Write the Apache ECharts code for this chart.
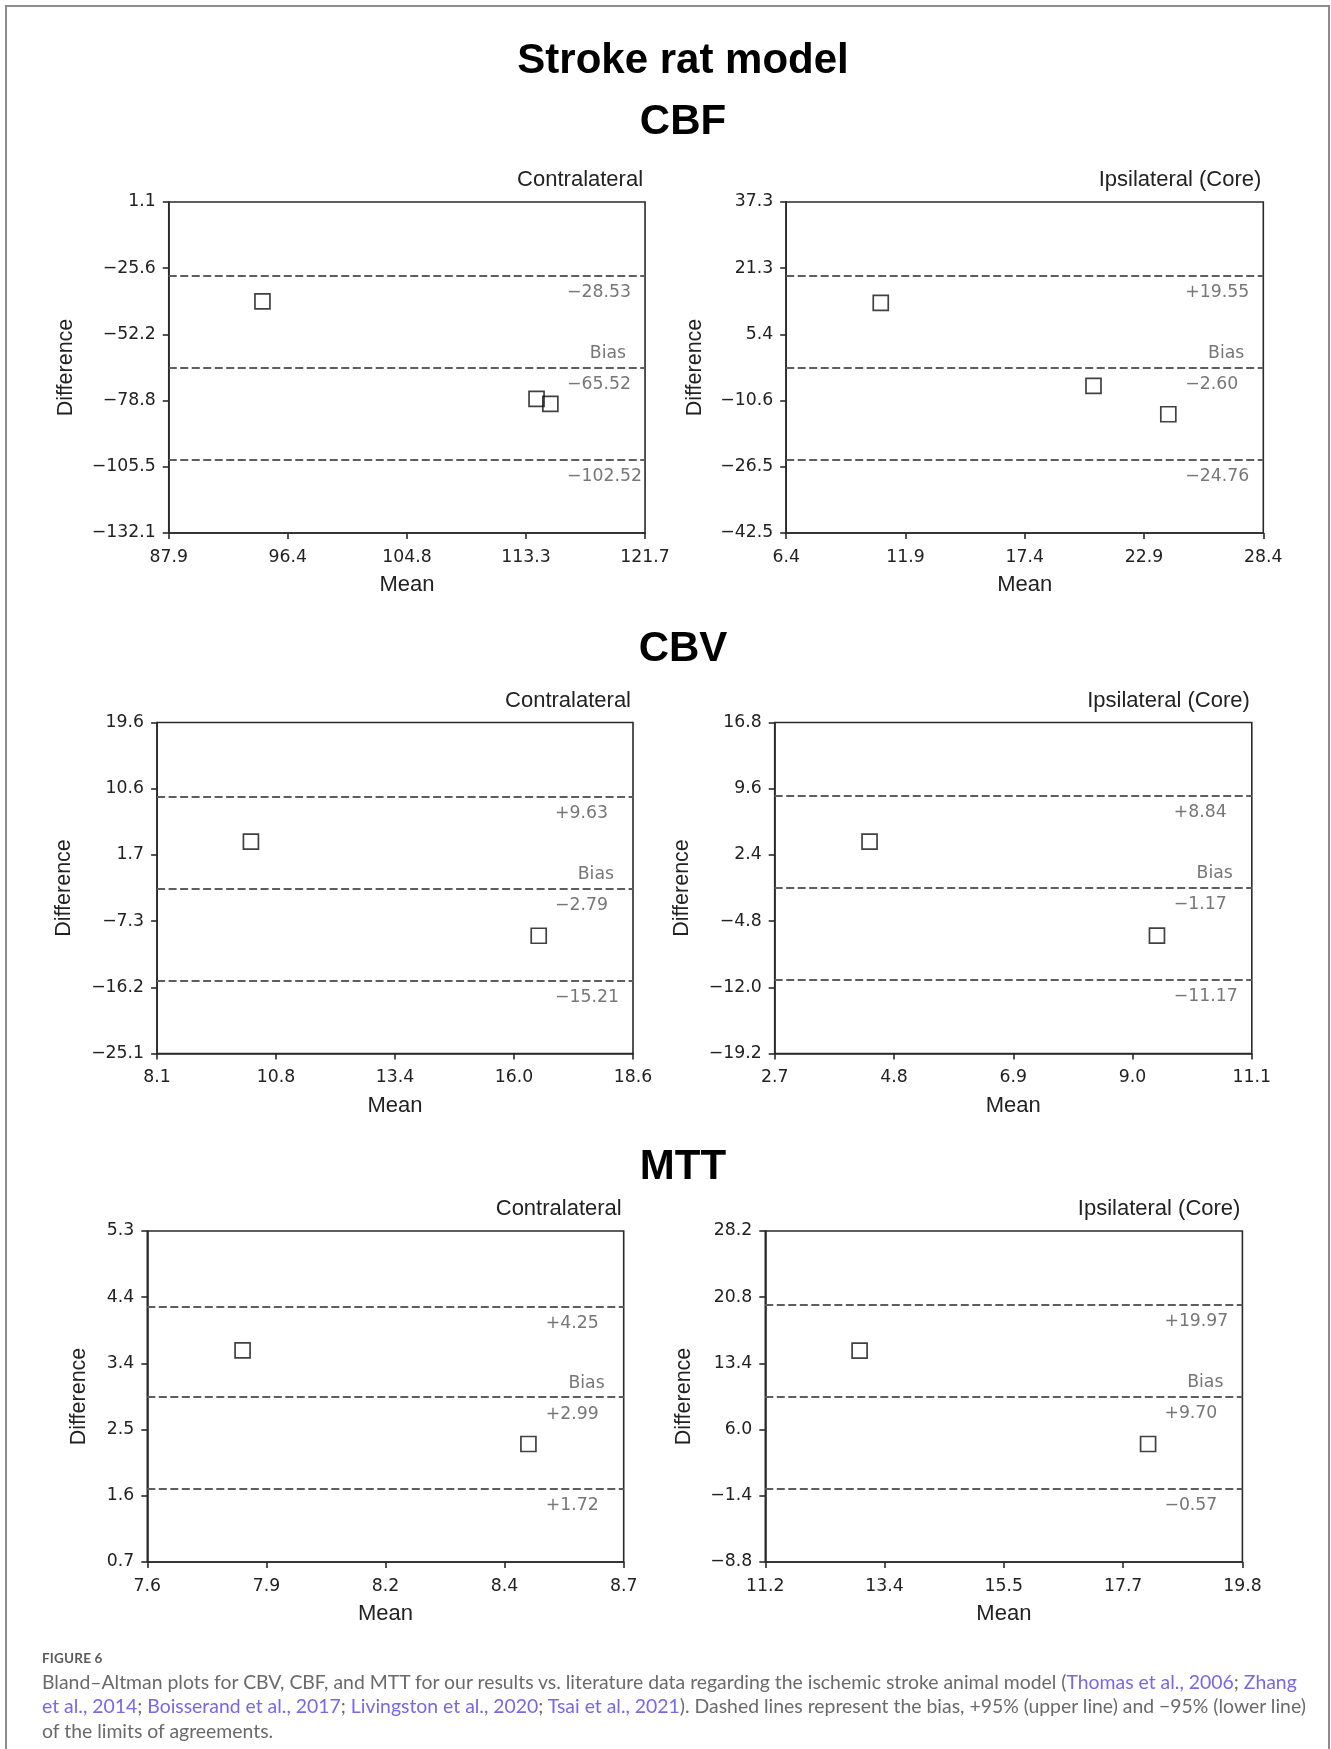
<!DOCTYPE html>
<html>
<head>
<meta charset="utf-8">
<script src="https://cdn.jsdelivr.net/npm/echarts@6/dist/echarts.min.js"></script>
<style>
html,body{margin:0;padding:0;background:#fff;}
#frame{position:absolute;left:5px;top:5px;width:1325px;height:1800px;border:2px solid #8c8c8c;box-sizing:border-box;}
#chart{position:absolute;left:0;top:0;width:1331px;height:1749px;}
#caption{position:absolute;left:42px;top:1648px;font-family:Lato,"Open Sans",sans-serif;color:#6a6a6a;white-space:nowrap;}
#caption .fig{font-size:13.5px;font-weight:700;color:#5a5a5a;line-height:20px;letter-spacing:0.2px;}
#caption .txt{font-size:19.4px;line-height:24.3px;margin-top:2px;}
#caption .l{color:#7669e6;}
</style>
</head>
<body>
<div id="frame"></div>
<div id="chart"></div>
<div id="caption">
<div class="fig">FIGURE 6</div>
<div class="txt">Bland–Altman plots for CBV, CBF, and MTT for our results vs. literature data regarding the ischemic stroke animal model (<span class="l">Thomas et al., 2006</span>; <span class="l">Zhang</span><br><span class="l">et al., 2014</span>; <span class="l">Boisserand et al., 2017</span>; <span class="l">Livingston et al., 2020</span>; <span class="l">Tsai et al., 2021</span>). Dashed lines represent the bias, +95% (upper line) and −95% (lower line)<br>of the limits of agreements.</div>
</div>
<script>
// ---------------- DATA ----------------
// CBF
const cbfContraMean = [94.55, 114.0, 114.98];
const cbfContraDiff = [-38.9, -78.1, -80.1];
const cbfContraLimits = [-28.53, -65.52, -102.52];   // upper, bias, lower
const cbfContraXTicks = [87.9, 96.4, 104.8, 113.3, 121.7];
const cbfContraYTicks = [-132.1, -105.5, -78.8, -52.2, -25.6, 1.1];

const cbfIpsiMean = [10.76, 20.57, 24.02];
const cbfIpsiDiff = [13.0, -7.05, -13.87];
const cbfIpsiLimits = [19.55, -2.60, -24.76];
const cbfIpsiXTicks = [6.4, 11.9, 17.4, 22.9, 28.4];
const cbfIpsiYTicks = [-42.5, -26.5, -10.6, 5.4, 21.3, 37.3];

// CBV
const cbvContraMean = [10.17, 16.52];
const cbvContraDiff = [3.52, -9.2];
const cbvContraLimits = [9.63, -2.79, -15.21];
const cbvContraXTicks = [8.1, 10.8, 13.4, 16.0, 18.6];
const cbvContraYTicks = [-25.1, -16.2, -7.3, 1.7, 10.6, 19.6];

const cbvIpsiMean = [4.37, 9.43];
const cbvIpsiDiff = [3.85, -6.39];
const cbvIpsiLimits = [8.84, -1.17, -11.17];
const cbvIpsiXTicks = [2.7, 4.8, 6.9, 9.0, 11.1];
const cbvIpsiYTicks = [-19.2, -12.0, -4.8, 2.4, 9.6, 16.8];

// MTT
const mttContraMean = [7.82, 8.48];
const mttContraDiff = [3.64, 2.34];
const mttContraLimits = [4.25, 2.99, 1.72];
const mttContraXTicks = [7.6, 7.9, 8.2, 8.4, 8.7];
const mttContraYTicks = [0.7, 1.6, 2.5, 3.4, 4.4, 5.3];

const mttIpsiMean = [12.90, 18.10];
const mttIpsiDiff = [14.83, 4.39];
const mttIpsiLimits = [19.97, 9.70, -0.57];
const mttIpsiXTicks = [11.2, 13.4, 15.5, 17.7, 19.8];
const mttIpsiYTicks = [-8.8, -1.4, 6.0, 13.4, 20.8, 28.2];

const sectionTitles = ['CBF', 'CBV', 'MTT'];
const mainTitle = 'Stroke rat model';
const subTitles = ['Contralateral', 'Ipsilateral (Core)'];

// ---------------- LAYOUT ----------------
const panels = [
  {l:168.75, t:202,   w:476.3, h:331, sub:0, gap:92, mean:cbfContraMean, diff:cbfContraDiff, lim:cbfContraLimits, xt:cbfContraXTicks, yt:cbfContraYTicks},
  {l:786.2,  t:202,   w:477.1, h:331, sub:1, gap:80, mean:cbfIpsiMean,   diff:cbfIpsiDiff,   lim:cbfIpsiLimits,   xt:cbfIpsiXTicks,   yt:cbfIpsiYTicks},
  {l:157.1,  t:722.5, w:475.9, h:331, sub:0, gap:82, mean:cbvContraMean, diff:cbvContraDiff, lim:cbvContraLimits, xt:cbvContraXTicks, yt:cbvContraYTicks},
  {l:774.7,  t:722.5, w:477.1, h:331, sub:1, gap:82, mean:cbvIpsiMean,   diff:cbvIpsiDiff,   lim:cbvIpsiLimits,   xt:cbvIpsiXTicks,   yt:cbvIpsiYTicks},
  {l:147.3,  t:1231,  w:476.4, h:331, sub:0, gap:57, mean:mttContraMean, diff:mttContraDiff, lim:mttContraLimits, xt:mttContraXTicks, yt:mttContraYTicks},
  {l:765.3,  t:1231,  w:477.1, h:331, sub:1, gap:70, mean:mttIpsiMean,   diff:mttIpsiDiff,   lim:mttIpsiLimits,   xt:mttIpsiXTicks,   yt:mttIpsiYTicks}
];
const sectionY = [122, 649, 1167];
const mainTitleY = 61;
const centerX = 683;

const AXIS_COLOR = '#2a2a2a';
const TICK_FONT = '"DejaVu Sans", sans-serif';
const NAME_FONT = '"Liberation Sans", Arial, sans-serif';
const ANN_COLOR = '#777';

function fmtNum(v) {
  const s = Math.abs(v).toFixed(1);
  return v < 0 ? '\u2212' + s : s;
}
function fmtLim(v) {
  const s = Math.abs(v).toFixed(2);
  return (v < 0 ? '\u2212' : '+') + s;
}
function evenPositions(arr) {
  const a = arr[0], b = arr[arr.length - 1], n = arr.length;
  return arr.map((_, i) => a + (b - a) * i / (n - 1));
}
function makeFormatter(arr) {
  const pos = evenPositions(arr);
  return function (v) {
    let best = 0, bd = Infinity;
    pos.forEach((p, i) => { const d = Math.abs(p - v); if (d < bd) { bd = d; best = i; } });
    return fmtNum(arr[best]);
  };
}

const grids = [], xAxes = [], yAxes = [], series = [], graphics = [];

graphics.push({type:'text', x:centerX, y:mainTitleY, style:{text:mainTitle, fontFamily:NAME_FONT, fontWeight:'bold', fontSize:42, fill:'#000', align:'center', verticalAlign:'middle'}});
sectionTitles.forEach((t, i) => {
  graphics.push({type:'text', x:centerX, y:sectionY[i], style:{text:t, fontFamily:NAME_FONT, fontWeight:'bold', fontSize:42, fill:'#000', align:'center', verticalAlign:'middle'}});
});

panels.forEach((p, i) => {
  grids.push({left:p.l, top:p.t, width:p.w, height:p.h, show:true, borderColor:AXIS_COLOR, borderWidth:1.6, backgroundColor:'rgba(0,0,0,0)'});
  const xpos = evenPositions(p.xt), ypos = evenPositions(p.yt);
  xAxes.push({
    type:'value', gridIndex:i, min:p.xt[0], max:p.xt[p.xt.length-1],
    name:'Mean', nameLocation:'middle', nameGap:41,
    nameTextStyle:{fontFamily:NAME_FONT, fontSize:22, color:'#222'},
    axisLine:{show:true, onZero:false, lineStyle:{color:AXIS_COLOR, width:1.6}},
    axisTick:{show:true, length:6, customValues:xpos, lineStyle:{color:AXIS_COLOR, width:1.6}},
    axisLabel:{show:true, customValues:xpos, formatter:makeFormatter(p.xt), margin:16, fontFamily:TICK_FONT, fontSize:17.3, color:'#222'},
    splitLine:{show:false}
  });
  yAxes.push({
    type:'value', gridIndex:i, min:p.yt[0], max:p.yt[p.yt.length-1],
    name:'Difference', nameLocation:'middle', nameGap:p.gap,
    nameTextStyle:{fontFamily:NAME_FONT, fontSize:21.5, color:'#222'},
    axisLine:{show:true, onZero:false, lineStyle:{color:AXIS_COLOR, width:1.6}},
    axisTick:{show:true, length:6, customValues:ypos, lineStyle:{color:AXIS_COLOR, width:1.6}},
    axisLabel:{show:true, customValues:ypos, formatter:makeFormatter(p.yt), margin:13, fontFamily:TICK_FONT, fontSize:17.3, color:'#222'},
    splitLine:{show:false}
  });
  const numLabel = (v) => ({
    show:true, position:'insideEndBottom', distance:[3, 8],
    formatter:'{a|' + fmtLim(v) + '}',
    rich:{a:{width:75, align:'left', fontFamily:TICK_FONT, fontSize:17.3, color:ANN_COLOR, lineHeight:18}}
  });
  series.push({
    type:'scatter', xAxisIndex:i, yAxisIndex:i,
    data:p.mean.map((m, k) => [m, p.diff[k]]),
    symbol:'rect', symbolSize:15,
    itemStyle:{color:'rgba(255,255,255,0)', borderColor:'#111', borderWidth:1.7},
    silent:true, z:5,
    markLine:{
      silent:true, symbol:'none', animation:false,
      lineStyle:{type:[8, 3.5], color:'#5e5e5e', width:2},
      emphasis:{disabled:true},
      data:[
        {yAxis:p.lim[0], label:numLabel(p.lim[0])},
        {yAxis:p.lim[1], label:numLabel(p.lim[1])},
        {yAxis:p.lim[2], label:numLabel(p.lim[2])}
      ]
    }
  });
  // second, invisible line at the bias value carrying the "Bias" caption
  series.push({
    type:'scatter', xAxisIndex:i, yAxisIndex:i, data:[], silent:true,
    markLine:{
      silent:true, symbol:'none', animation:false,
      lineStyle:{type:'solid', color:'rgba(0,0,0,0)', width:1},
      emphasis:{disabled:true},
      data:[{yAxis:p.lim[1], label:{show:true, position:'insideEndTop', distance:[19, 5], formatter:'Bias', fontFamily:TICK_FONT, fontSize:17.3, color:ANN_COLOR, lineHeight:18}}]
    }
  });
  graphics.push({type:'text', x:p.l + p.w - 2, y:p.t - 22, style:{text:subTitles[p.sub], fontFamily:NAME_FONT, fontSize:22, fill:'#222', align:'right', verticalAlign:'middle'}});
});

const chart = echarts.init(document.getElementById('chart'), null, {renderer:'canvas'});
chart.setOption({
  animation:false,
  backgroundColor:'rgba(0,0,0,0)',
  grid:grids, xAxis:xAxes, yAxis:yAxes, series:series, graphic:graphics
});
</script>
</body>
</html>
